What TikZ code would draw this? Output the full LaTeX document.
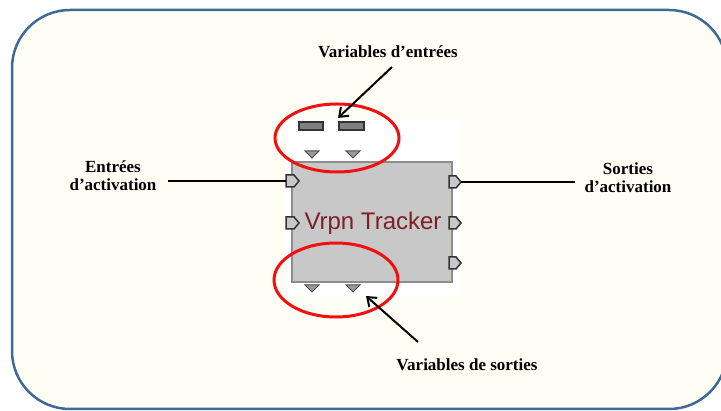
\documentclass[tikz,border=0pt]{standalone}
\usepackage{fontspec}
\setmainfont{Liberation Serif}
\newfontfamily\blockfont{Liberation Sans}
\usetikzlibrary{arrows.meta,shapes.geometric}
\definecolor{cream}{HTML}{FEFEF4}
\definecolor{frameblue}{HTML}{3E6A9A}
\definecolor{blockgray}{HTML}{C8C8C8}
\definecolor{blockedge}{HTML}{8C8C8C}
\definecolor{titlered}{HTML}{7F1E24}
\definecolor{ringred}{HTML}{F01010}
\tikzset{
  lbl/.style={font=\fontsize{17}{19}\selectfont\bfseries, align=center, inner sep=0pt},
  conn/.style={line width=2pt, black},
  pointer/.style={line width=2pt, black, -{Straight Barb[length=8pt,width=12pt,line width=2pt]}},
  ring/.style={draw=ringred, line width=3pt},
  portshape/.style={fill=blockgray, draw=black!80, line width=1.5pt, line join=miter},
  trishape/.style={fill=black!40, draw=black!70, line width=1pt},
  varbox/.style={fill=black!50, draw=black!80, line width=1.2pt}
}
\begin{document}
\begin{tikzpicture}[x=1pt,y=-1pt]
\useasboundingbox (0,0) rectangle (721,411);
% frame
\draw[frameblue, fill=cream, line width=2.5pt, rounded corners=58pt] (12,10) rectangle (727,409);
% white backdrop of the block
\fill[white] (285,118) rectangle (462,296);
% block
\node[draw=blockedge, fill=blockgray, line width=1.5pt, minimum width=160pt, minimum height=120pt, inner sep=0pt] (block) at (372,222) {};
\node[font=\blockfont\fontsize{24}{26}\selectfont, text=titlered, inner sep=0pt] (title) at (373,223) {Vrpn Tracker};
% input variables
\draw[varbox] (299,122) rectangle (323,130);
\draw[varbox] (339,122) rectangle (364,130);
% triangles top
\draw[trishape] (305,151) -- (319,151) -- (312,158) -- cycle;
\draw[trishape] (346,151) -- (360,151) -- (353,158) -- cycle;
% triangles bottom
\draw[trishape] (305,285) -- (319,285) -- (312,292) -- cycle;
\draw[trishape] (346,285) -- (360,285) -- (353,292) -- cycle;
% left ports
\draw[portshape] (286,175) -- (294,175) -- (299,181) -- (294,187) -- (286,187) -- cycle;
\draw[portshape] (286,217) -- (294,217) -- (299,223) -- (294,229) -- (286,229) -- cycle;
% right ports
\draw[portshape] (449,176) -- (456,176) -- (461,182) -- (456,188) -- (449,188) -- cycle;
\draw[portshape] (449,217) -- (456,217) -- (461,223) -- (456,229) -- (449,229) -- cycle;
\draw[portshape] (449,257) -- (456,257) -- (461,263) -- (456,269) -- (449,269) -- cycle;
\coordinate (inA) at (286,181);
\coordinate (outA) at (461,182);
% red rings
\node[ring, ellipse, minimum width=124pt, minimum height=68pt, inner sep=0pt] (ringtop) at (337,138) {};
\node[ring, ellipse, minimum width=124pt, minimum height=74pt, inner sep=0pt] (ringbot) at (336,280) {};
% labels
\node[lbl] (varin) at (388,52) {Variables d’entrées};
\node[lbl] (actin) at (113,176) {Entrées\\[-1pt]d’activation};
\node[lbl] (actout) at (628,178) {Sorties\\[-1pt]d’activation};
\node[lbl] (varout) at (467,365) {Variables de sorties};
\coordinate (lineinstart) at (168,181);
\coordinate (lineoutend) at (575,182);
\coordinate (startin) at (392,67);
\coordinate (tipin) at (338,118);
\coordinate (startout) at (418,342);
\coordinate (tipout) at (366,296);
% connectors
\draw[conn] (lineinstart) -- (inA);
\draw[conn] (outA) -- (lineoutend);
\draw[pointer] (startin) -- (tipin);
\draw[pointer] (startout) -- (tipout);
\end{tikzpicture}
\end{document}
